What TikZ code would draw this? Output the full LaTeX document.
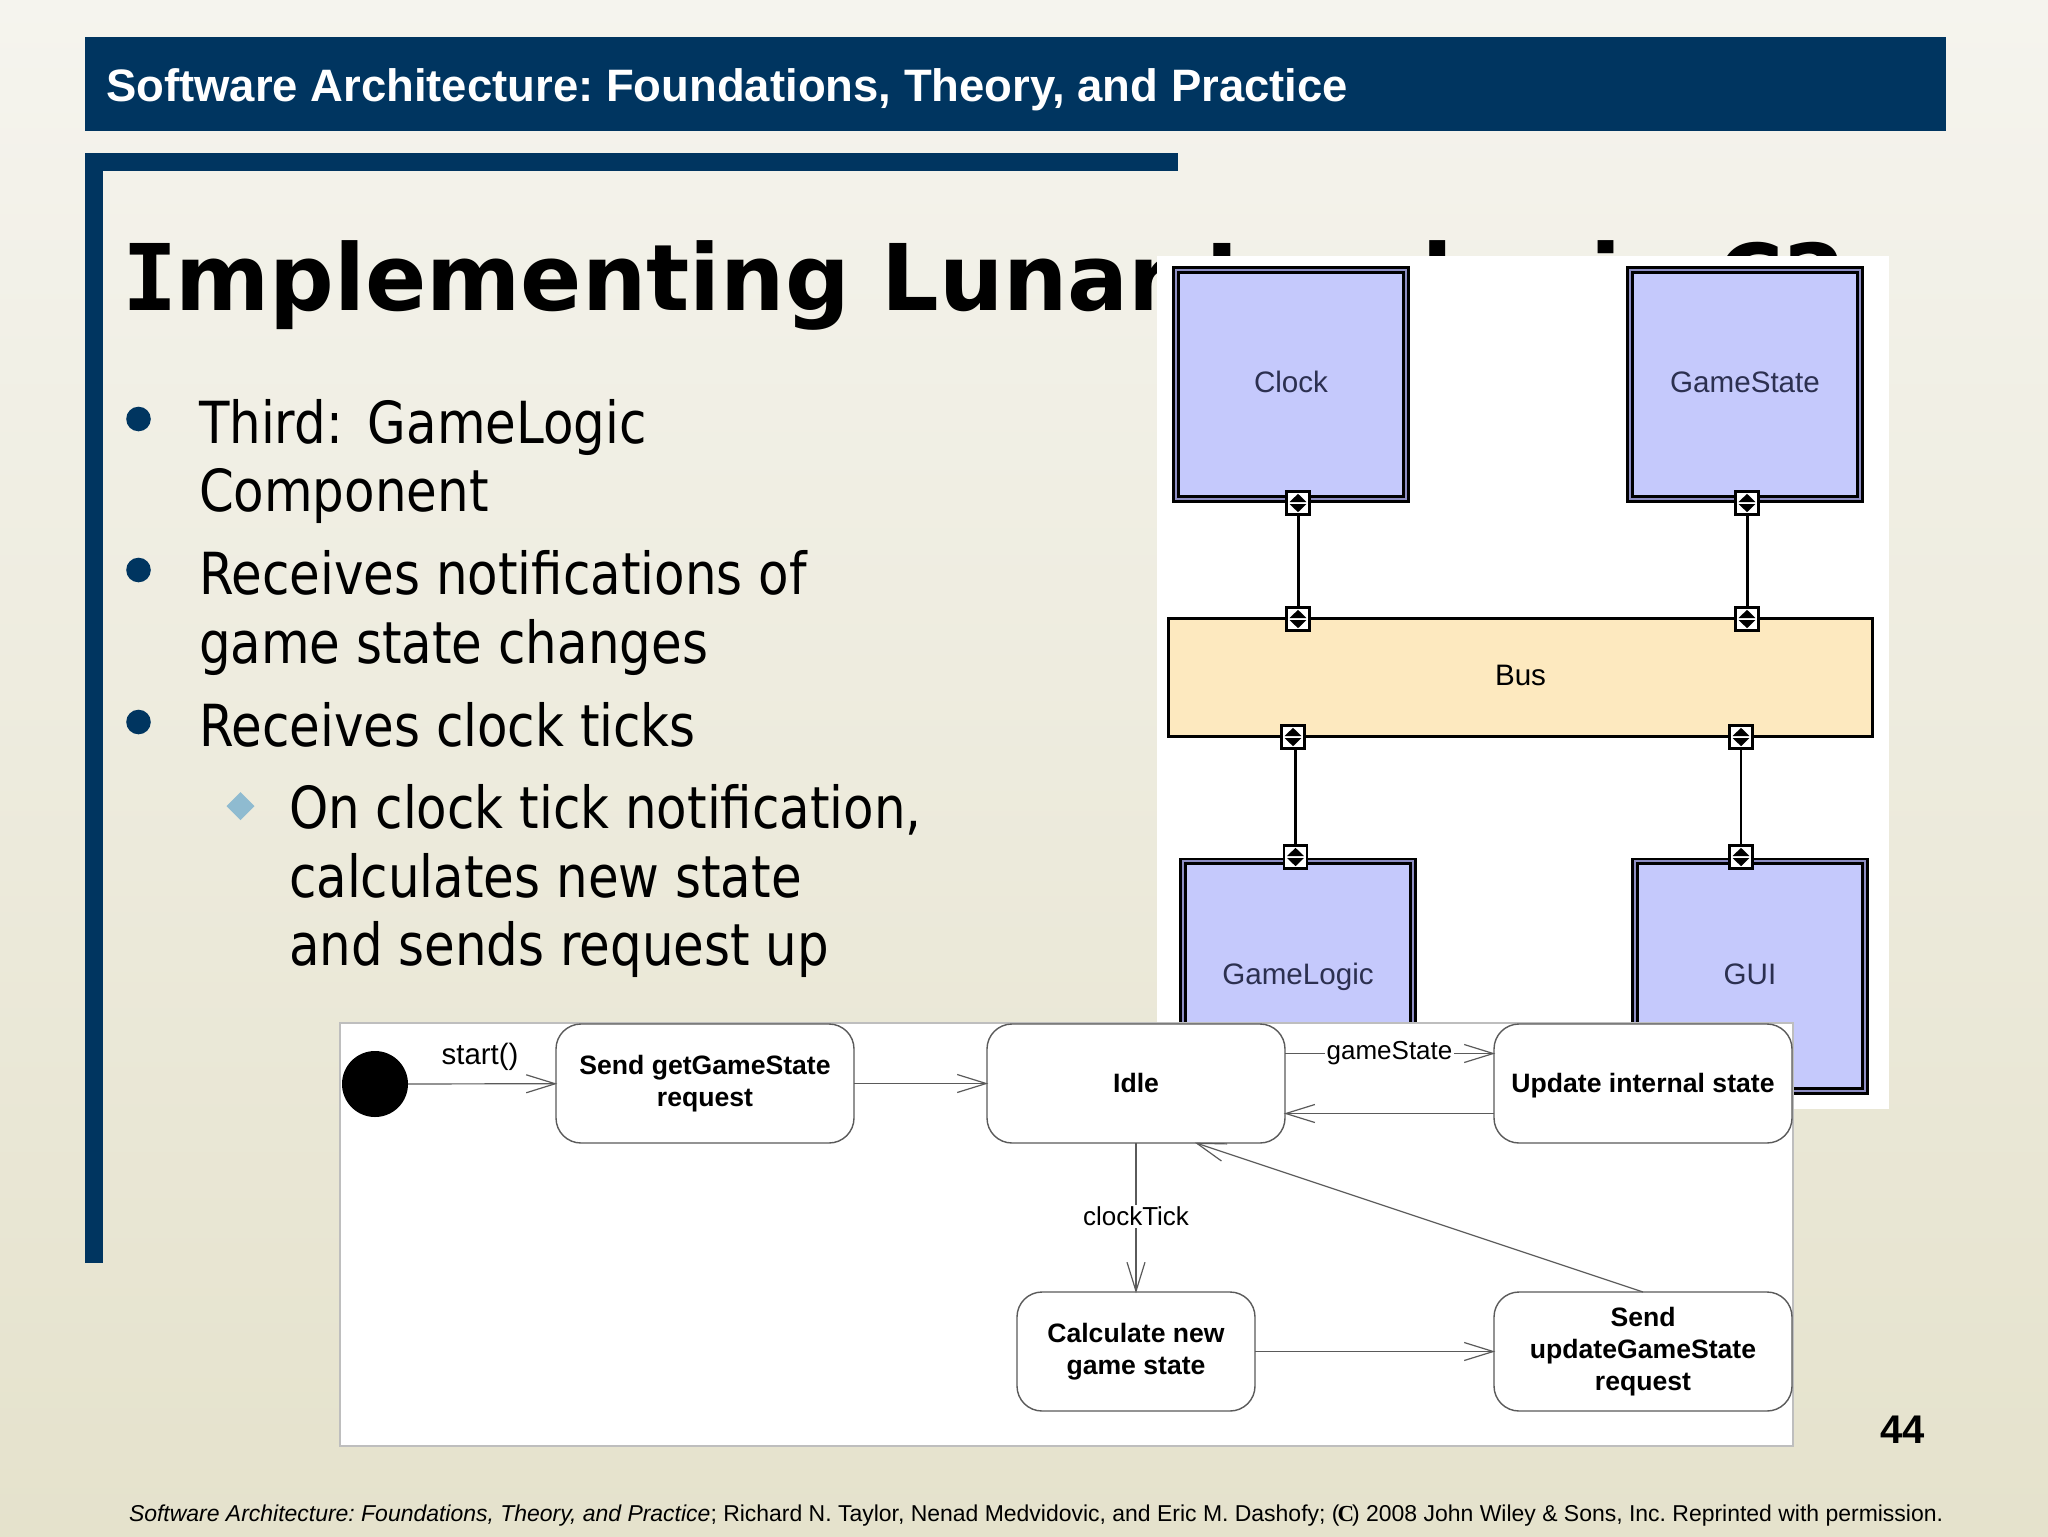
\documentclass[tikz,border=0pt]{standalone}
\usepackage{fontspec}
\usetikzlibrary{arrows.meta}
\setmainfont{Liberation Sans}
\newfontfamily\bodyfont[FakeStretch=0.86]{DejaVu Sans}
\newfontfamily\titlefont[FakeStretch=0.983]{DejaVu Sans}
\newfontfamily\titleifont{DejaVu Sans Mono}
\newfontfamily\serifcfont{Liberation Serif}
\frenchspacing
\definecolor{navy}{HTML}{003560}
\definecolor{bgtop}{HTML}{F5F4EE}
\definecolor{bgbottom}{HTML}{E5E2CC}
\definecolor{compblue}{HTML}{C5C9FC}
\definecolor{compgap}{HTML}{8E8EC4}
\definecolor{busfill}{HTML}{FDE9BF}
\definecolor{arrowgrey}{HTML}{5A5A5A}
\definecolor{panelgrey}{HTML}{BEBEBE}
\definecolor{diamondblue}{HTML}{8FBBD0}
\definecolor{labelink}{HTML}{2C3050}
\tikzset{
  txt/.style={anchor=base west,inner sep=0pt,outer sep=0pt},
  bodytext/.style={txt,font=\bodyfont\fontsize{29}{34}\selectfont,text=black},
  component/.style={draw=black,line width=1.4pt,double=compgap,double distance=1pt,fill=compblue,
    minimum width=115.2pt,minimum height=114.7pt,inner sep=0pt,outer sep=0pt,
    text=labelink,text height=11.4pt,text depth=3pt,font=\fontsize{14.8}{18}\selectfont},
  busbox/.style={draw=black,line width=1.25pt,fill=busfill,minimum width=352pt,minimum height=59pt,
    inner sep=0pt,outer sep=0pt,text height=11.4pt,text depth=3pt,font=\fontsize{14.8}{18}\selectfont},
  portbox/.style={draw=black,line width=1.1pt,fill=white,minimum size=11.5pt,inner sep=0pt,outer sep=0pt,
    path picture={
      \fill[black] (-4.2pt,.5pt)--(4.2pt,.5pt)--(0pt,4.6pt)--cycle;
      \fill[black] (-4.2pt,-.5pt)--(4.2pt,-.5pt)--(0pt,-4.6pt)--cycle;
    }},
  wire/.style={draw=black,line width=1.5pt},
  statebox/.style={draw=arrowgrey,line width=.7pt,fill=white,rounded corners=12.5pt,
    minimum height=59.5pt,inner sep=0pt,outer sep=0pt,align=center,text=black,
    font=\bfseries\fontsize{13.3}{16}\selectfont},
  flow/.style={draw=arrowgrey,line width=.6pt,shorten >=-.6pt,-{Straight Barb[length=14.5pt,width=9pt]}},
  flowlabel/.style={font=\fontsize{13}{16}\selectfont,fill=white,inner sep=1pt,text=black}
}
\begin{document}
\begin{tikzpicture}[x=.5pt,y=-.5pt]
\useasboundingbox (0,0) rectangle (2048,1536);
\shade[top color=bgtop,bottom color=bgbottom] (0,0) rectangle (2048,1536);
% header and frame
\fill[navy] (85,37) rectangle (1946,131);
\fill[navy] (85,153) rectangle (1178,171);
\fill[navy] (85,153) rectangle (103,1263);
\node[txt,text=white,font=\bfseries\fontsize{22.73}{26}\selectfont] (head) at (106,102) {Software Architecture: Foundations, Theory, and Practice};
\node[txt,text=black,font=\titlefont\bfseries\fontsize{46}{54}\selectfont] (ttl) at (122,310) {{\titleifont\bfseries I\kern-1pt}mplementing Lunar Lander in C2};
% bullets
\fill[navy] (138.5,419) circle (12.3);
\fill[navy] (138.5,570) circle (12.3);
\fill[navy] (138.5,722) circle (12.3);
\fill[diamondblue] (226.5,806) -- (240.5,792) -- (254.5,806) -- (240.5,820) -- cycle;
\node[bodytext] (b1) at (199,443) {Third:\kern4.5pt{} GameLogic};
\node[bodytext] (b2) at (199,511) {Component};
\node[bodytext] (b3) at (199,594.5) {Receives notifications of};
\node[bodytext] (b4) at (199,663) {game state changes};
\node[bodytext] (b5) at (199,746) {Receives clock ticks};
\node[bodytext] (b6) at (289,828) {On clock tick notification,};
\node[bodytext] (b7) at (289,897) {calculates new state};
\node[bodytext] (b8) at (289,965) {and sends request up};
% architecture picture
\fill[white] (1157,256) rectangle (1889,1109);
\node[component] (clock) at (1291,384.5) {Clock};
\node[component] (gamestate) at (1745,384.5) {GameState};
\node[component] (gamelogic) at (1298,976) {GameLogic};
\node[component] (gui) at (1750,976) {GUI};
\node[busbox] (bus) at (1520.5,677.5) {Bus};
\node[portbox] (p1) at (1298,503) {};
\node[portbox] (p2) at (1298,619) {};
\node[portbox] (p3) at (1747,503) {};
\node[portbox] (p4) at (1747,619) {};
\node[portbox] (p5) at (1293,737) {};
\node[portbox] (p6) at (1295.5,857) {};
\node[portbox] (p7) at (1741,737) {};
\node[portbox] (p8) at (1741,857) {};
\draw[wire] (p1) -- (p2);
\draw[wire] (p3) -- (p4);
\draw[wire,line width=1.1pt] ([xshift=1.25pt]p5.south) -- (p6.north);
\draw[wire,line width=1.1pt] (p7.south) -- (p8.north);
% statechart panel
\draw[draw=panelgrey,fill=white,line width=1.2pt] (340,1023) rectangle (1793,1446);
\node[circle,fill=black,minimum size=33pt,inner sep=0pt,outer sep=0pt] (init) at (375,1084) {};
\node[statebox,minimum width=149pt] (sendget) at (705,1083.5) {Send getGameState\\request};
\node[statebox,minimum width=149pt,text depth=1pt] (idle) at (1136,1083.5) {Idle};
\node[statebox,minimum width=149pt,text depth=1pt] (update) at (1643,1083.5) {Update internal state};
\node[statebox,minimum width=119pt] (calc) at (1136,1351.5) {Calculate new\\game state};
\node[statebox,minimum width=149pt] (sendupd) at (1643,1351.5) {Send\\updateGameState\\request};
\coordinate (idleb) at (1196,1143);
\draw[flow] (init) -- (sendget);
\node[font=\fontsize{14.7}{17}\selectfont,inner sep=0pt] (startlbl) at (480,1057) {start()};
\draw[flow] (sendget) -- (idle);
\draw[flow] ([yshift=15pt]idle.east) -- node[flowlabel,midway] (gslbl) {gameState} ([yshift=15pt]update.west);
\draw[flow] ([yshift=-15pt]update.west) -- ([yshift=-15pt]idle.east);
\draw[flow] (idle) -- node[flowlabel,midway,yshift=.5pt] (cklbl) {clockTick} (calc);
\draw[flow] (calc) -- (sendupd);
\draw[flow] (sendupd.north) -- (idleb);
% page number and footer
\node[txt,font=\bfseries\fontsize{20}{24}\selectfont] (pg) at (1880,1443) {44};
\node[txt,font=\fontsize{11.48}{14}\selectfont] (foot) at (129,1521) {\textit{Software Architecture: Foundations, Theory, and Practice}; Richard N. Taylor, Nenad Medvidovic, and Eric M. Dashofy; ({\serifcfont\bfseries\kern-1pt C\kern-1pt}) 2008 John Wiley \& Sons, Inc. Reprinted with permission.};
\end{tikzpicture}
\end{document}
